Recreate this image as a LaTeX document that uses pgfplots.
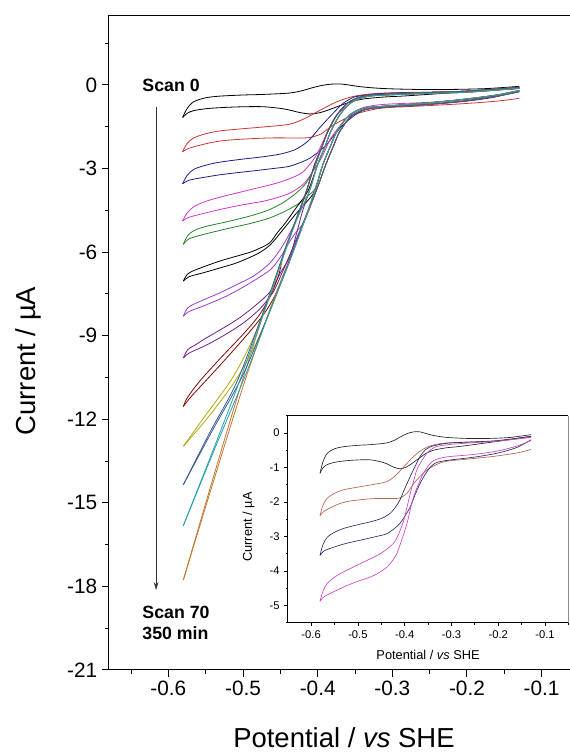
\documentclass[border=0pt]{standalone}
\usepackage{fontspec}
\setmainfont{Liberation Sans}
\usepackage{pgfplots}
\usepackage{pgfplotstable}
\pgfplotsset{compat=1.18}
\usetikzlibrary{arrows.meta}

\definecolor{cBK}{RGB}{0,0,0}
\definecolor{cRD}{RGB}{205,55,50}
\definecolor{cNV}{RGB}{30,30,125}
\definecolor{cMG}{RGB}{205,55,205}
\definecolor{cGR}{RGB}{40,130,40}
\definecolor{cVI}{RGB}{155,60,200}
\definecolor{cPU}{RGB}{110,30,140}
\definecolor{cMR}{RGB}{125,10,10}
\definecolor{cOL}{RGB}{175,170,20}
\definecolor{cST}{RGB}{55,90,145}
\definecolor{cTL}{RGB}{40,160,170}
\definecolor{cOR}{RGB}{195,120,50}
\definecolor{iRD}{RGB}{180,100,85}
\definecolor{iNV}{RGB}{45,45,95}
\definecolor{iMG}{RGB}{200,70,200}

% ---- scan 0 (black)
\pgfplotstableread[row sep=\\]{x y\\ -0.581 -1.17\\ -0.575 -0.85\\ -0.566 -0.6\\ -0.55 -0.46\\ -0.531 -0.4\\ -0.5 -0.36\\ -0.474 -0.34\\ -0.438 -0.29\\ -0.42 -0.2\\ -0.41 -0.12\\ -0.395 -0.02\\ -0.381 0.03\\ -0.367 0.03\\ -0.34 -0.07\\ -0.31 -0.13\\ -0.267 -0.16\\ -0.22 -0.16\\ -0.174 -0.13\\ -0.13 -0.05\\}\bkU
\pgfplotstableread[row sep=\\]{x y\\ -0.581 -1.17\\ -0.575 -1.02\\ -0.566 -0.92\\ -0.545 -0.84\\ -0.51 -0.79\\ -0.474 -0.78\\ -0.445 -0.86\\ -0.424 -0.99\\ -0.41 -1.04\\ -0.398 -1.0\\ -0.386 -0.9\\ -0.374 -0.78\\ -0.355 -0.6\\ -0.338 -0.5\\ -0.31 -0.43\\ -0.281 -0.39\\ -0.21 -0.26\\ -0.16 -0.16\\ -0.13 -0.1\\}\bkL
% ---- red
\pgfplotstableread[row sep=\\]{x y\\ -0.581 -2.4\\ -0.575 -2.1\\ -0.566 -1.9\\ -0.55 -1.75\\ -0.531 -1.65\\ -0.5 -1.57\\ -0.474 -1.51\\ -0.438 -1.41\\ -0.417 -1.2\\ -0.395 -0.88\\ -0.374 -0.6\\ -0.352 -0.41\\ -0.324 -0.31\\ -0.28 -0.27\\ -0.21 -0.24\\ -0.13 -0.13\\}\rdU
\pgfplotstableread[row sep=\\]{x y\\ -0.581 -2.4\\ -0.575 -2.3\\ -0.566 -2.22\\ -0.545 -2.08\\ -0.524 -1.99\\ -0.49 -1.93\\ -0.46 -1.9\\ -0.417 -1.9\\ -0.405 -1.85\\ -0.395 -1.75\\ -0.385 -1.55\\ -0.374 -1.36\\ -0.352 -1.07\\ -0.324 -0.87\\ -0.3 -0.8\\ -0.281 -0.78\\ -0.21 -0.68\\ -0.16 -0.58\\ -0.13 -0.48\\}\rdL
% ---- navy
\pgfplotstableread[row sep=\\]{x y\\ -0.581 -3.55\\ -0.575 -3.25\\ -0.566 -3.03\\ -0.55 -2.88\\ -0.531 -2.77\\ -0.5 -2.66\\ -0.474 -2.58\\ -0.45 -2.48\\ -0.431 -2.33\\ -0.418 -2.12\\ -0.41 -1.94\\ -0.4 -1.62\\ -0.388 -1.26\\ -0.377 -0.95\\ -0.367 -0.68\\ -0.355 -0.48\\ -0.345 -0.4\\ -0.31 -0.3\\ -0.25 -0.26\\ -0.2 -0.22\\ -0.13 -0.1\\}\nvU
\pgfplotstableread[row sep=\\]{x y\\ -0.581 -3.55\\ -0.575 -3.45\\ -0.566 -3.38\\ -0.53 -3.22\\ -0.495 -3.11\\ -0.46 -3.0\\ -0.438 -2.92\\ -0.42 -2.75\\ -0.41 -2.62\\ -0.398 -2.38\\ -0.388 -2.14\\ -0.378 -1.8\\ -0.367 -1.46\\ -0.356 -1.2\\ -0.345 -0.99\\ -0.335 -0.88\\ -0.324 -0.83\\ -0.3 -0.78\\ -0.25 -0.7\\ -0.2 -0.58\\ -0.16 -0.42\\ -0.13 -0.2\\}\nvL
% ---- magenta
\pgfplotstableread[row sep=\\]{x y\\ -0.581 -4.88\\ -0.575 -4.6\\ -0.566 -4.37\\ -0.55 -4.18\\ -0.531 -4.03\\ -0.495 -3.79\\ -0.452 -3.5\\ -0.424 -3.2\\ -0.412 -2.9\\ -0.402 -2.53\\ -0.395 -2.15\\ -0.388 -1.75\\ -0.381 -1.4\\ -0.374 -1.07\\ -0.363 -0.8\\ -0.352 -0.58\\ -0.341 -0.46\\ -0.331 -0.39\\ -0.3 -0.33\\ -0.25 -0.28\\ -0.2 -0.24\\ -0.13 -0.12\\}\mgU
\pgfplotstableread[row sep=\\]{x y\\ -0.581 -4.88\\ -0.575 -4.78\\ -0.566 -4.7\\ -0.531 -4.47\\ -0.5 -4.3\\ -0.474 -4.18\\ -0.455 -4.05\\ -0.438 -3.89\\ -0.427 -3.72\\ -0.417 -3.5\\ -0.405 -3.05\\ -0.395 -2.62\\ -0.388 -2.22\\ -0.381 -1.85\\ -0.37 -1.47\\ -0.36 -1.17\\ -0.348 -0.93\\ -0.338 -0.8\\ -0.32 -0.72\\ -0.3 -0.68\\ -0.25 -0.62\\ -0.2 -0.52\\ -0.16 -0.38\\ -0.13 -0.22\\}\mgL
% ---- green
\pgfplotstableread[row sep=\\]{x y\\ -0.58 -5.72\\ -0.574 -5.4\\ -0.565 -5.22\\ -0.55 -5.08\\ -0.52 -4.9\\ -0.49 -4.7\\ -0.465 -4.48\\ -0.445 -4.2\\ -0.428 -3.86\\ -0.415 -3.5\\ -0.404 -2.95\\ -0.394 -2.2\\ -0.387 -1.7\\ -0.375 -1.1\\ -0.36 -0.65\\ -0.345 -0.45\\ -0.33 -0.37\\ -0.3 -0.32\\ -0.25 -0.27\\ -0.2 -0.22\\ -0.13 -0.08\\}\grU
\pgfplotstableread[row sep=\\]{x y\\ -0.58 -5.72\\ -0.572 -5.52\\ -0.555 -5.38\\ -0.52 -5.15\\ -0.49 -4.97\\ -0.465 -4.78\\ -0.445 -4.55\\ -0.428 -4.3\\ -0.415 -4.02\\ -0.404 -3.75\\ -0.398 -3.3\\ -0.393 -2.85\\ -0.383 -2.2\\ -0.375 -1.7\\ -0.362 -1.2\\ -0.35 -0.95\\ -0.335 -0.82\\ -0.31 -0.76\\ -0.25 -0.64\\ -0.2 -0.5\\ -0.16 -0.36\\ -0.13 -0.2\\}\grL
% ---- black 2
\pgfplotstableread[row sep=\\]{x y\\ -0.58 -7.04\\ -0.574 -6.78\\ -0.562 -6.62\\ -0.531 -6.32\\ -0.5 -6.08\\ -0.486 -5.96\\ -0.465 -5.68\\ -0.454 -5.3\\ -0.443 -4.94\\ -0.43 -4.45\\ -0.413 -3.8\\ -0.400 -2.85\\ -0.390 -2.2\\ -0.383 -1.7\\ -0.371 -1.1\\ -0.357 -0.67\\ -0.342 -0.47\\ -0.327 -0.39\\ -0.3 -0.35\\ -0.25 -0.3\\ -0.2 -0.26\\ -0.13 -0.12\\}\kbU
\pgfplotstableread[row sep=\\]{x y\\ -0.58 -7.04\\ -0.572 -6.88\\ -0.553 -6.74\\ -0.53 -6.56\\ -0.508 -6.38\\ -0.48 -6.05\\ -0.463 -5.72\\ -0.446 -5.18\\ -0.43 -4.65\\ -0.415 -4.2\\ -0.404 -3.8\\ -0.393 -2.85\\ -0.383 -2.2\\ -0.375 -1.7\\ -0.362 -1.2\\ -0.35 -0.95\\ -0.335 -0.82\\ -0.31 -0.76\\ -0.25 -0.64\\ -0.2 -0.5\\ -0.16 -0.36\\ -0.13 -0.2\\}\kbL
% ---- violet
\pgfplotstableread[row sep=\\]{x y\\ -0.58 -8.3\\ -0.574 -8.0\\ -0.562 -7.82\\ -0.531 -7.46\\ -0.505 -7.12\\ -0.486 -6.86\\ -0.465 -6.42\\ -0.45 -5.9\\ -0.437 -5.3\\ -0.425 -4.6\\ -0.415 -3.8\\ -0.404 -2.85\\ -0.394 -2.2\\ -0.387 -1.7\\ -0.375 -1.1\\ -0.36 -0.65\\ -0.345 -0.45\\ -0.33 -0.37\\ -0.3 -0.32\\ -0.25 -0.27\\ -0.2 -0.22\\ -0.13 -0.08\\}\viU
\pgfplotstableread[row sep=\\]{x y\\ -0.58 -8.3\\ -0.572 -8.13\\ -0.55 -7.9\\ -0.52 -7.55\\ -0.49 -7.1\\ -0.463 -6.62\\ -0.448 -6.1\\ -0.437 -5.6\\ -0.428 -5.25\\ -0.418 -4.9\\ -0.402 -3.8\\ -0.389 -2.85\\ -0.379 -2.2\\ -0.371 -1.7\\ -0.358 -1.2\\ -0.346 -0.97\\ -0.331 -0.85\\ -0.31 -0.8\\ -0.25 -0.69\\ -0.2 -0.56\\ -0.16 -0.4\\ -0.13 -0.24\\}\viL
% ---- purple
\pgfplotstableread[row sep=\\]{x y\\ -0.58 -9.8\\ -0.574 -9.5\\ -0.562 -9.3\\ -0.553 -9.14\\ -0.53 -8.78\\ -0.508 -8.42\\ -0.485 -7.95\\ -0.463 -7.4\\ -0.45 -6.75\\ -0.437 -6.14\\ -0.428 -5.3\\ -0.42 -4.5\\ -0.411 -3.8\\ -0.400 -2.85\\ -0.390 -2.2\\ -0.383 -1.7\\ -0.371 -1.1\\ -0.357 -0.67\\ -0.342 -0.47\\ -0.327 -0.39\\ -0.3 -0.35\\ -0.25 -0.3\\ -0.2 -0.26\\ -0.13 -0.12\\}\puU
\pgfplotstableread[row sep=\\]{x y\\ -0.58 -9.8\\ -0.572 -9.62\\ -0.55 -9.35\\ -0.525 -8.98\\ -0.5 -8.55\\ -0.478 -8.05\\ -0.46 -7.45\\ -0.447 -6.7\\ -0.435 -5.95\\ -0.425 -5.3\\ -0.418 -4.9\\ -0.404 -3.8\\ -0.393 -2.85\\ -0.383 -2.2\\ -0.375 -1.7\\ -0.362 -1.2\\ -0.35 -0.95\\ -0.335 -0.82\\ -0.31 -0.76\\ -0.25 -0.64\\ -0.2 -0.5\\ -0.16 -0.36\\ -0.13 -0.2\\}\puL
% ---- maroon
\pgfplotstableread[row sep=\\]{x y\\ -0.58 -11.54\\ -0.574 -11.2\\ -0.557 -10.6\\ -0.53 -9.8\\ -0.5 -8.95\\ -0.478 -8.25\\ -0.463 -7.55\\ -0.452 -6.8\\ -0.445 -6.0\\ -0.43 -4.9\\ -0.415 -3.8\\ -0.404 -2.85\\ -0.394 -2.2\\ -0.387 -1.7\\ -0.375 -1.1\\ -0.36 -0.65\\ -0.345 -0.45\\ -0.33 -0.37\\ -0.3 -0.32\\ -0.25 -0.27\\ -0.2 -0.22\\ -0.13 -0.08\\}\mrU
\pgfplotstableread[row sep=\\]{x y\\ -0.58 -11.54\\ -0.57 -11.2\\ -0.55 -10.62\\ -0.522 -9.8\\ -0.494 -8.95\\ -0.472 -8.22\\ -0.458 -7.6\\ -0.446 -6.9\\ -0.433 -6.0\\ -0.418 -4.9\\ -0.402 -3.8\\ -0.389 -2.85\\ -0.379 -2.2\\ -0.371 -1.7\\ -0.358 -1.2\\ -0.346 -0.97\\ -0.331 -0.85\\ -0.31 -0.8\\ -0.25 -0.69\\ -0.2 -0.56\\ -0.16 -0.4\\ -0.13 -0.24\\}\mrL
% ---- olive
\pgfplotstableread[row sep=\\]{x y\\ -0.58 -12.97\\ -0.55 -11.85\\ -0.515 -10.55\\ -0.49 -9.3\\ -0.467 -7.8\\ -0.445 -6.1\\ -0.43 -4.95\\ -0.411 -3.8\\ -0.400 -2.85\\ -0.390 -2.2\\ -0.383 -1.7\\ -0.371 -1.1\\ -0.357 -0.67\\ -0.342 -0.47\\ -0.327 -0.39\\ -0.3 -0.35\\ -0.25 -0.3\\ -0.2 -0.26\\ -0.13 -0.12\\}\olU
\pgfplotstableread[row sep=\\]{x y\\ -0.58 -12.97\\ -0.546 -11.9\\ -0.51 -10.6\\ -0.483 -9.3\\ -0.459 -7.8\\ -0.435 -6.1\\ -0.418 -4.9\\ -0.404 -3.8\\ -0.393 -2.85\\ -0.383 -2.2\\ -0.375 -1.7\\ -0.362 -1.2\\ -0.35 -0.95\\ -0.335 -0.82\\ -0.31 -0.76\\ -0.25 -0.64\\ -0.2 -0.5\\ -0.16 -0.36\\ -0.13 -0.2\\}\olL
% ---- steel blue
\pgfplotstableread[row sep=\\]{x y\\ -0.58 -14.35\\ -0.545 -12.5\\ -0.507 -10.58\\ -0.467 -7.7\\ -0.445 -6.0\\ -0.43 -4.9\\ -0.415 -3.8\\ -0.404 -2.85\\ -0.394 -2.2\\ -0.387 -1.7\\ -0.375 -1.1\\ -0.36 -0.65\\ -0.345 -0.45\\ -0.33 -0.37\\ -0.3 -0.32\\ -0.25 -0.27\\ -0.2 -0.22\\ -0.13 -0.08\\}\stU
\pgfplotstableread[row sep=\\]{x y\\ -0.58 -14.35\\ -0.541 -12.4\\ -0.5 -10.4\\ -0.458 -7.7\\ -0.434 -6.0\\ -0.419 -4.9\\ -0.402 -3.8\\ -0.389 -2.85\\ -0.379 -2.2\\ -0.371 -1.7\\ -0.358 -1.2\\ -0.346 -0.97\\ -0.331 -0.85\\ -0.31 -0.8\\ -0.25 -0.69\\ -0.2 -0.56\\ -0.16 -0.4\\ -0.13 -0.24\\}\stL
% ---- teal
\pgfplotstableread[row sep=\\]{x y\\ -0.58 -15.82\\ -0.54 -13.1\\ -0.504 -10.58\\ -0.466 -7.7\\ -0.444 -6.0\\ -0.429 -4.9\\ -0.411 -3.8\\ -0.400 -2.85\\ -0.390 -2.2\\ -0.383 -1.7\\ -0.371 -1.1\\ -0.357 -0.67\\ -0.342 -0.47\\ -0.327 -0.39\\ -0.3 -0.35\\ -0.25 -0.3\\ -0.2 -0.26\\ -0.13 -0.12\\}\tlU
\pgfplotstableread[row sep=\\]{x y\\ -0.58 -15.82\\ -0.537 -13.0\\ -0.498 -10.5\\ -0.458 -7.7\\ -0.433 -6.0\\ -0.418 -4.9\\ -0.404 -3.8\\ -0.393 -2.85\\ -0.383 -2.2\\ -0.375 -1.7\\ -0.362 -1.2\\ -0.35 -0.95\\ -0.335 -0.82\\ -0.31 -0.76\\ -0.25 -0.64\\ -0.2 -0.5\\ -0.16 -0.36\\ -0.13 -0.2\\}\tlL
% ---- orange
\pgfplotstableread[row sep=\\]{x y\\ -0.58 -17.77\\ -0.54 -14.1\\ -0.502 -10.7\\ -0.467 -7.75\\ -0.445 -6.0\\ -0.43 -4.9\\ -0.415 -3.8\\ -0.404 -2.85\\ -0.394 -2.2\\ -0.387 -1.7\\ -0.375 -1.1\\ -0.36 -0.65\\ -0.345 -0.45\\ -0.33 -0.37\\ -0.3 -0.32\\ -0.25 -0.27\\ -0.2 -0.22\\ -0.13 -0.08\\}\orU
\pgfplotstableread[row sep=\\]{x y\\ -0.58 -17.77\\ -0.537 -14.0\\ -0.497 -10.58\\ -0.459 -7.7\\ -0.434 -6.0\\ -0.418 -4.9\\ -0.402 -3.8\\ -0.389 -2.85\\ -0.379 -2.2\\ -0.371 -1.7\\ -0.358 -1.2\\ -0.346 -0.97\\ -0.331 -0.85\\ -0.31 -0.8\\ -0.25 -0.69\\ -0.2 -0.56\\ -0.16 -0.4\\ -0.13 -0.24\\}\orL

\pgfplotsset{cv/.style={smooth, tension=0.5, no markers, line width=0.6pt, forget plot}}

\begin{document}
\begin{tikzpicture}
\useasboundingbox (0,0) rectangle (427.5pt,567pt);
\begin{axis}[
  at={(81.5pt,64.5pt)}, anchor=south west, scale only axis,
  width=346pt, height=491pt,
  xmin=-0.68, xmax=-0.062, ymin=-21, ymax=2.5,
  axis x line*=bottom, axis y line*=left,
  axis line style={-, line width=0.75pt},
  xtick={-0.6,-0.5,-0.4,-0.3,-0.2,-0.1},
  minor xtick={-0.65,-0.55,-0.45,-0.35,-0.25,-0.15},
  ytick={-21,-18,-15,-12,-9,-6,-3,0},
  minor ytick={-19.5,-16.5,-13.5,-10.5,-7.5,-4.5,-1.5,1.5},
  tick align=outside, major tick length=5pt, minor tick length=3pt,
  every tick/.style={line width=0.75pt, black},
  /pgf/number format/assume math mode=true,
  xticklabel style={/pgf/number format/fixed, /pgf/number format/precision=1, /pgf/number format/fixed zerofill},
  ticklabel style={font=\fontsize{15.6}{18}\selectfont},
  xlabel={Potential / \textit{vs} SHE},
  ylabel={Current / µA},
  label style={font=\fontsize{20.6}{24}\selectfont},
  xlabel style={at={(axis description cs:0.51,-0.104)}, anchor=center},
  ylabel style={at={(axis description cs:-0.175,0.472)}, anchor=center},
  clip=false,
]
\draw[line width=0.75pt] (rel axis cs:0,1) -- (rel axis cs:1,1);
\addplot[cv, cBK] table {\bkU}; \addplot[cv, cBK] table {\bkL};
\addplot[cv, cRD] table {\rdU}; \addplot[cv, cRD] table {\rdL};
\addplot[cv, cNV] table {\nvU}; \addplot[cv, cNV] table {\nvL};
\addplot[cv, cMG] table {\mgU}; \addplot[cv, cMG] table {\mgL};
\addplot[cv, cGR] table {\grU}; \addplot[cv, cGR] table {\grL};
\addplot[cv, cBK] table {\kbU}; \addplot[cv, cBK] table {\kbL};
\addplot[cv, cVI] table {\viU}; \addplot[cv, cVI] table {\viL};
\addplot[cv, cPU] table {\puU}; \addplot[cv, cPU] table {\puL};
\addplot[cv, cMR] table {\mrU}; \addplot[cv, cMR] table {\mrL};
\addplot[cv, cOR] table {\orU}; \addplot[cv, cOR] table {\orL};
\addplot[cv, cOL] table {\olU}; \addplot[cv, cOL] table {\olL};
\addplot[cv, cST] table {\stU}; \addplot[cv, cST] table {\stL};
\addplot[cv, cTL] table {\tlU}; \addplot[cv, cTL] table {\tlL};
\node[anchor=west, font=\fontsize{13.3}{15.75}\selectfont\bfseries] at (axis cs:-0.641,0) {Scan 0};
\node[anchor=west, align=left, font=\fontsize{13.3}{15.75}\selectfont\bfseries] at (axis cs:-0.641,-19.3) {Scan 70\\350 min};
\draw[line width=0.5pt, black!80, -{Stealth[length=6pt, width=3.5pt]}] (axis cs:-0.6165,-0.78) -- (axis cs:-0.6165,-18.13);
\end{axis}

\begin{axis}[
  at={(215.8pt,100pt)}, anchor=south west, scale only axis,
  width=210.5pt, height=155.25pt,
  xmin=-0.65, xmax=-0.05, ymin=-5.5, ymax=0.5,
  axis x line*=bottom, axis y line*=left,
  axis line style={-, line width=0.6pt},
  xtick={-0.6,-0.5,-0.4,-0.3,-0.2,-0.1},
  minor xtick={-0.55,-0.45,-0.35,-0.25,-0.15,-0.05},
  ytick={-5,-4,-3,-2,-1,0},
  minor ytick={-5.5,-4.5,-3.5,-2.5,-1.5,-0.5,0.5},
  tick align=outside, major tick length=2.5pt, minor tick length=1.5pt,
  every tick/.style={line width=0.6pt, black},
  /pgf/number format/assume math mode=true,
  xticklabel style={/pgf/number format/fixed, /pgf/number format/precision=1, /pgf/number format/fixed zerofill},
  ticklabel style={font=\fontsize{8.4}{10}\selectfont},
  xlabel={Potential / \textit{vs} SHE},
  ylabel={Current / µA},
  label style={font=\fontsize{9.6}{11}\selectfont},
  xlabel style={at={(axis description cs:0.5,-0.156)}, anchor=center},
  ylabel style={at={(axis description cs:-0.140,0.462)}, anchor=center},
  clip=false,
]
\draw[line width=0.6pt] (rel axis cs:0,1) -- (rel axis cs:1,1);
\draw[line width=0.6pt, black!45] (rel axis cs:1,1) -- (rel axis cs:1,0);
\addplot[cv, line width=0.5pt, black!85] table {\bkU}; \addplot[cv, line width=0.5pt, black!85] table {\bkL};
\addplot[cv, line width=0.5pt, iRD] table {\rdU}; \addplot[cv, line width=0.5pt, iRD] table {\rdL};
\addplot[cv, line width=0.5pt, iNV] table {\nvU}; \addplot[cv, line width=0.5pt, iNV] table {\nvL};
\addplot[cv, line width=0.5pt, iMG] table {\mgU}; \addplot[cv, line width=0.5pt, iMG] table {\mgL};
\end{axis}
\end{tikzpicture}
\end{document}
